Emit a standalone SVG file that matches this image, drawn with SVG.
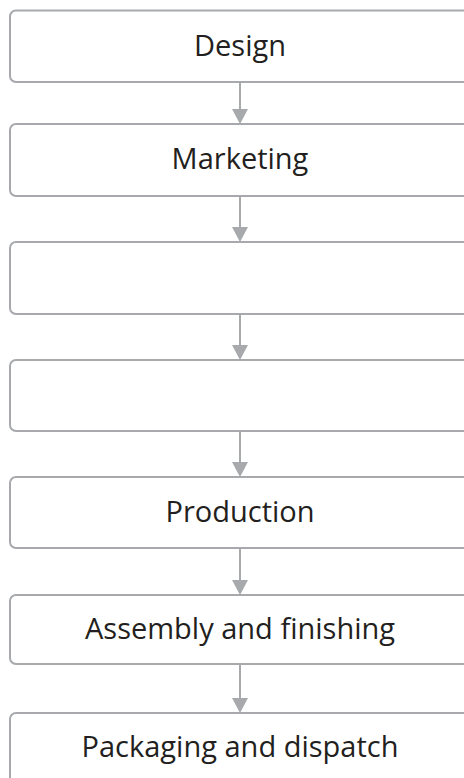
<svg xmlns="http://www.w3.org/2000/svg" width="464" height="778" viewBox="0 0 464 778">
<defs>
<style>
.box{fill:#fff;stroke:#a7a9ac;stroke-width:2}
.lbl{font-family:"Open Sans","Liberation Sans",sans-serif;font-size:29px;fill:#231f20;text-anchor:middle}
.conn line{stroke:#a7a9ac;stroke-width:2}
.conn path{fill:#a7a9ac}
</style>
</defs>
<rect width="464" height="778" fill="#fff"/>
<g id="n1"><rect class="box" x="10" y="10.5" width="460" height="71.5" rx="6"/><text class="lbl" x="240" y="56">Design</text></g>
<g id="n2"><rect class="box" x="10" y="124" width="460" height="72" rx="6"/><text class="lbl" x="240" y="169">Marketing</text></g>
<g id="n3"><rect class="box" x="10" y="242" width="460" height="72" rx="6"/></g>
<g id="n4"><rect class="box" x="10" y="360" width="460" height="71" rx="6"/></g>
<g id="n5"><rect class="box" x="10" y="477" width="460" height="71" rx="6"/><text class="lbl" x="240" y="522">Production</text></g>
<g id="n6"><rect class="box" x="10" y="595" width="460" height="69" rx="6"/><text class="lbl" x="240" y="639">Assembly and finishing</text></g>
<g id="n7"><rect class="box" x="10" y="713" width="460" height="72" rx="6"/><text class="lbl" x="240" y="757">Packaging and dispatch</text></g>
<g id="connectors" class="conn">
<line x1="240" y1="82" x2="240" y2="111"/><path d="M232 109 L248 109 L240 124 Z"/>
<line x1="240" y1="196" x2="240" y2="229"/><path d="M232 227 L248 227 L240 242 Z"/>
<line x1="240" y1="314" x2="240" y2="347"/><path d="M232 345 L248 345 L240 360 Z"/>
<line x1="240" y1="431" x2="240" y2="464"/><path d="M232 462 L248 462 L240 477 Z"/>
<line x1="240" y1="548" x2="240" y2="582"/><path d="M232 580 L248 580 L240 595 Z"/>
<line x1="240" y1="664" x2="240" y2="700"/><path d="M232 698 L248 698 L240 713 Z"/>
</g>
</svg>
